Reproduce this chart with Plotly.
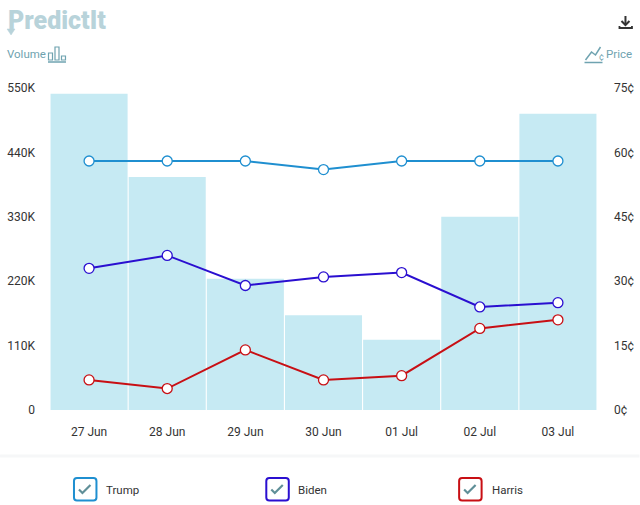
import plotly.graph_objects as go

dates = ["27 Jun", "28 Jun", "29 Jun", "30 Jun", "01 Jul", "02 Jul", "03 Jul"]
volume = [540000, 398000, 224000, 162000, 120000, 330000, 506000]
trump = [58, 58, 58, 56, 58, 58, 58]
biden = [33, 36, 29, 31, 32, 24, 25]
harris = [7, 5, 14, 7, 8, 19, 21]
vol_ticks = [0, 110000, 220000, 330000, 440000, 550000]
vol_labels = ["0", "110K", "220K", "330K", "440K", "550K"]
price_ticks = [0, 15, 30, 45, 60, 75]
price_labels = ["0¢", "15¢", "30¢", "45¢", "60¢", "75¢"]

W, H = 640, 505
L, R, T, B = 50, 42.5, 88, 95
TEAL = "#6fa3b0"
TEXT = "#333333"
FONT = "Roboto, sans-serif"
LOGO = "#b8d3da"


def px(x):
    return (x - L) / (W - L - R)


def py(y):
    return 1 - (y - T) / (H - T - B)


def path(points, close=False):
    s = "M" + " L".join(f"{px(x):.5f},{py(y):.5f}" for x, y in points)
    return s + (" Z" if close else "")


def line_shape(points, color, width=1.5, fill=None, close=False):
    d = dict(type="path", xref="paper", yref="paper", path=path(points, close),
             line=dict(color=color, width=width))
    if fill:
        d["fillcolor"] = fill
    return d


def rounded_box(x0, y0, x1, y1, color):
    r = 3
    s = (f"M{px(x0+r):.5f},{py(y0):.5f} L{px(x1-r):.5f},{py(y0):.5f} "
         f"Q{px(x1):.5f},{py(y0):.5f} {px(x1):.5f},{py(y0+r):.5f} "
         f"L{px(x1):.5f},{py(y1-r):.5f} Q{px(x1):.5f},{py(y1):.5f} {px(x1-r):.5f},{py(y1):.5f} "
         f"L{px(x0+r):.5f},{py(y1):.5f} Q{px(x0):.5f},{py(y1):.5f} {px(x0):.5f},{py(y1-r):.5f} "
         f"L{px(x0):.5f},{py(y0+r):.5f} Q{px(x0):.5f},{py(y0):.5f} {px(x0+r):.5f},{py(y0):.5f} Z")
    return dict(type="path", xref="paper", yref="paper", path=s,
                line=dict(color=color, width=2), fillcolor="white")


def text(x, y, s, size=12, color=TEXT, anchor="left", family=FONT, weight=None):
    f = dict(size=size, color=color, family=family)
    if weight:
        f["weight"] = weight
    return dict(xref="paper", yref="paper", x=px(x), y=py(y), text=s, showarrow=False,
                xanchor=anchor, yanchor="middle", font=f, borderpad=0, borderwidth=0)


fig = go.Figure()
fig.add_bar(x=dates, y=volume, marker=dict(color="#c6eaf3", line_width=0), yaxis="y", showlegend=False)
for vals, color in [(trump, "#1f8fd0"), (biden, "#2a0fd0"), (harris, "#c80f14")]:
    fig.add_scatter(x=dates, y=vals, yaxis="y2", mode="lines+markers", showlegend=False,
                    line=dict(color=color, width=2),
                    marker=dict(size=10, color="white", line=dict(color=color, width=1.3)))

shapes = [
    dict(type="line", xref="paper", yref="paper", x0=px(0), x1=px(640), y0=py(456), y1=py(456),
         line=dict(color="#f6f7f8", width=3)),
    # Volume icon
    line_shape([(48, 62), (66, 62)], TEAL),
    line_shape([(48.5, 60), (48.5, 53), (52.5, 53), (52.5, 60)], TEAL, 1.2, close=True),
    line_shape([(55, 60), (55, 47), (59, 47), (59, 60)], TEAL, 1.2, close=True),
    line_shape([(61.5, 60), (61.5, 56), (65.5, 56), (65.5, 60)], TEAL, 1.2, close=True),
    # Price icon
    line_shape([(585, 62.5), (603, 62.5)], TEAL),
    line_shape([(586, 60), (592, 52), (596, 55), (601, 47)], TEAL),
    # Download icon
    line_shape([(626, 16), (626, 24)], "#333333", 2),
    line_shape([(622, 21), (626, 25), (630, 21)], "#333333", 2),
    line_shape([(620, 26), (620, 28), (632.5, 28), (632.5, 26)], "#333333", 1.8),
    # Logo arrow
    line_shape([(7, 29), (15, 29), (11, 35)], LOGO, 0.5, fill=LOGO, close=True),
]
for x0, color in [(74, "#1f8fd0"), (266.5, "#2a0fd0"), (459.5, "#c80f14")]:
    shapes.append(rounded_box(x0, 478, x0 + 22.5, 500.5, color))
    shapes.append(line_shape([(x0 + 5, 489.5), (x0 + 8.5, 493), (x0 + 16.5, 485)], "#5f8f98", 2.2))

annotations = [
    text(7.5, 20.5, "PredictIt", 25, LOGO, weight=900),
    text(6.5, 54, "Volume", 11.5, TEAL),
    text(607, 54, "Price", 11.5, TEAL),
    text(599.5, 57, "¢", 9, TEAL),
    text(106, 489.5, "Trump", 11.5),
    text(298, 489.5, "Biden", 11.5),
    text(492, 489.5, "Harris", 11.5),
]

fig.update_layout(
    width=W, height=H, margin=dict(l=L, r=R, t=T, b=B, pad=0),
    paper_bgcolor="white", plot_bgcolor="white", bargap=0.014,
    font=dict(family=FONT, size=12, color=TEXT),
    xaxis=dict(type="category", showgrid=False, showline=False, zeroline=False, ticks="",
               ticklabelstandoff=13, range=[-0.5, 6.5], automargin=False),
    yaxis=dict(range=[0, 550000], tickvals=vol_ticks, ticktext=vol_labels, showgrid=False,
               zeroline=False, ticks="", ticklabelstandoff=14, automargin=False),
    yaxis2=dict(range=[0, 75], tickvals=price_ticks, ticktext=price_labels, side="right",
                overlaying="y", showgrid=False, zeroline=False, ticks="", ticklabelstandoff=16,
                automargin=False),
    shapes=shapes, annotations=annotations,
)
fig.write_html("out.html", config=dict(displayModeBar=False),
               post_script="document.body.style.margin='0';document.body.style.overflow='hidden';")
